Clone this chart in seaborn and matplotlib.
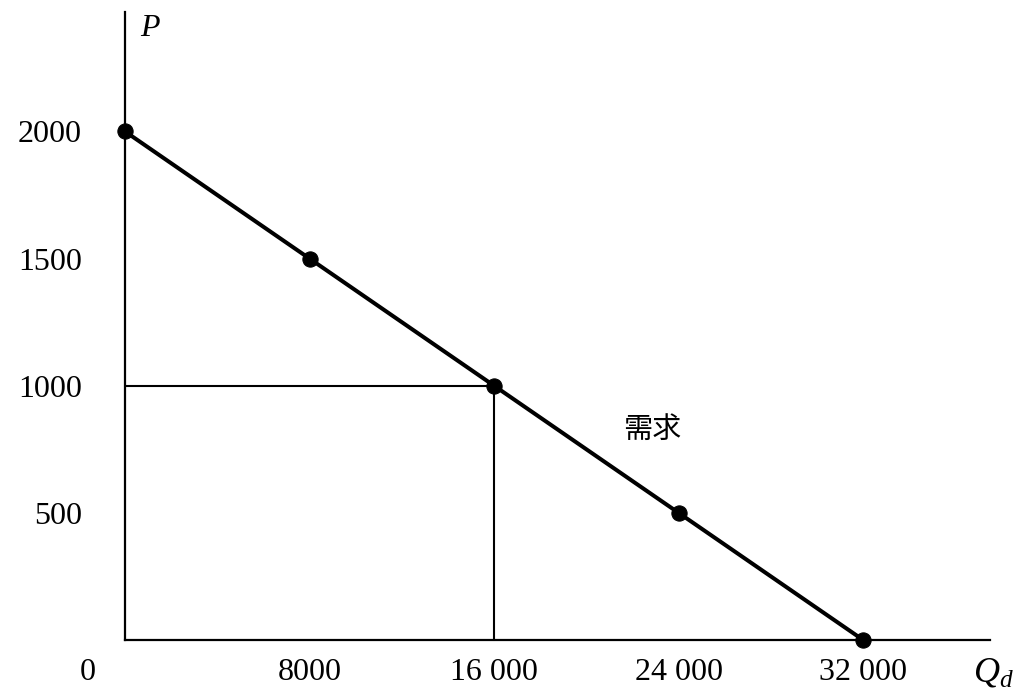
import matplotlib
matplotlib.use("Agg")
import matplotlib.pyplot as plt
import seaborn as sns

# data
quantity = [0, 8000, 16000, 24000, 32000]
price = [2000, 1500, 1000, 500, 0]
x_ticks = [8000, 16000, 24000, 32000]
x_tick_labels = ["8000", "16 000", "24 000", "32 000"]
y_ticks = [500, 1000, 1500, 2000]
y_tick_labels = ["500", "1000", "1500", "2000"]
ref_q = quantity[2]
ref_p = price[2]
curve_label = "需求"

sns.set_style("white")
plt.rcParams["font.family"] = ["Liberation Serif", "Noto Sans CJK SC"]
plt.rcParams["text.color"] = "black"
plt.rcParams["mathtext.fontset"] = "custom"
plt.rcParams["mathtext.rm"] = "Liberation Serif"
plt.rcParams["mathtext.it"] = "Liberation Serif:italic"

fig = plt.figure(figsize=(10.29, 6.96), dpi=100)
ax = fig.add_axes([0.1215, 0.0805, 0.8406, 0.9023])

# guide lines to the middle point
ax.plot([0, ref_q], [ref_p, ref_p], color="black", linewidth=1.5)
ax.plot([ref_q, ref_q], [0, ref_p], color="black", linewidth=1.5)

sns.lineplot(x=quantity, y=price, ax=ax, color="black", linewidth=2.9,
             marker="o", markersize=11, markeredgecolor="black")
for ln in ax.lines:
    ln.set_clip_on(False)
ax.lines[-1].set_zorder(5)

ax.set_xlim(0, 37500)
ax.set_ylim(0, 2470)

for s in ["top", "right"]:
    ax.spines[s].set_visible(False)
for s in ["left", "bottom"]:
    ax.spines[s].set_linewidth(1.6)
    ax.spines[s].set_color("black")

ax.set_xticks(x_ticks)
ax.set_xticklabels(x_tick_labels)
ax.set_yticks(y_ticks)
ax.set_yticklabels(y_tick_labels)
ax.tick_params(axis="x", direction="in", length=11.5, width=1.5, pad=13,
               labelsize=23, colors="black")
ax.tick_params(axis="y", direction="in", length=11.5, width=1.5, pad=31,
               labelsize=23, colors="black")

ax.annotate("0", xy=(0, 0), xycoords="data", xytext=(-27, -13),
            textcoords="offset points", ha="center", va="top", fontsize=23)
ax.annotate("P", xy=(0, 1), xycoords="axes fraction", xytext=(11, -12),
            textcoords="offset points", ha="left", va="center",
            fontsize=23, style="italic")
ax.annotate("$Q_d$", xy=(1, 0), xycoords="axes fraction", xytext=(-12, -12),
            textcoords="offset points", ha="left", va="top", fontsize=26)
ax.text(22850, 825, curve_label, ha="center", va="center", fontsize=21,
        color="black", fontweight="medium")

fig.savefig("out.png", dpi=100)
